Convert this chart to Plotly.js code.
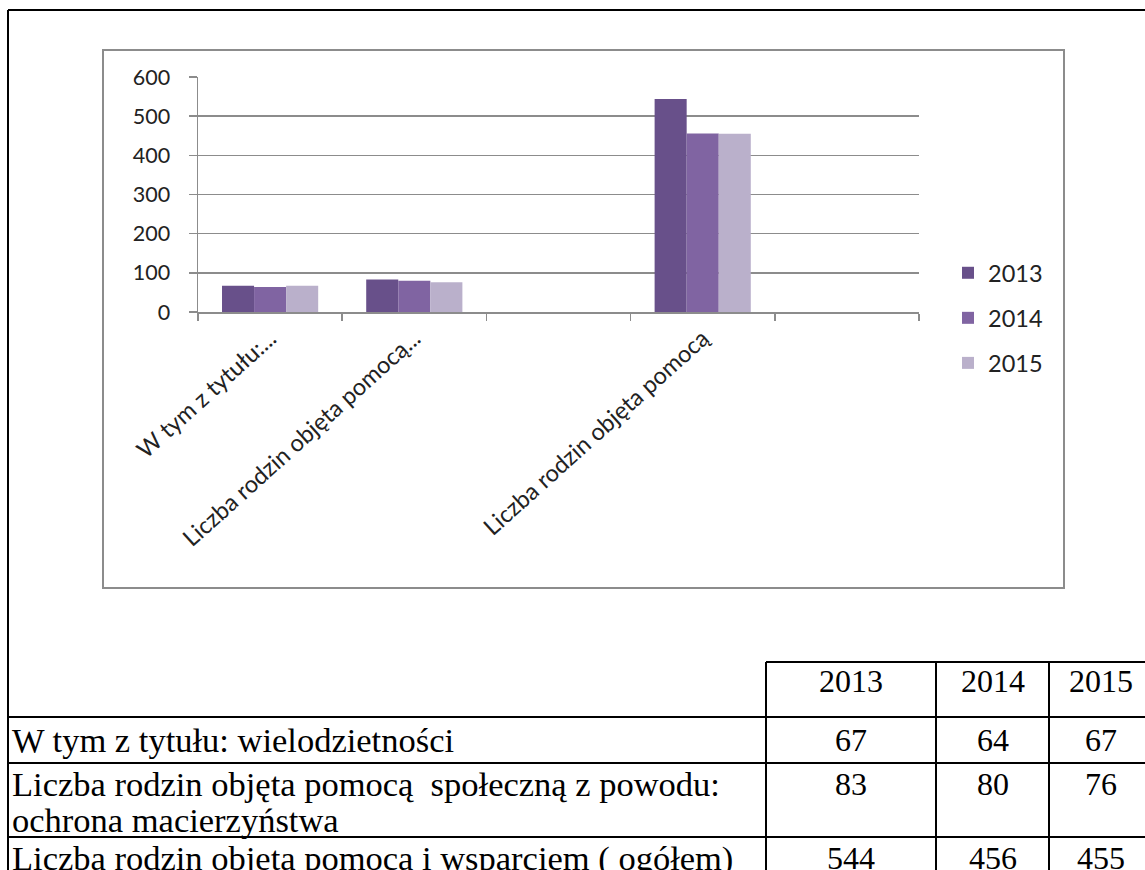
<!DOCTYPE html>
<html><head><meta charset="utf-8">
<script src="https://cdn.plot.ly/plotly-3.0.1.min.js"></script>
<style>html,body{margin:0;padding:0;background:#fff;} #chart{width:1145px;height:870px;}</style>
</head><body><div id="chart"></div>
<script>
// ---- data ----
const categories = ["W tym z tytułu:...", "Liczba rodzin objęta pomocą...", " ", "Liczba rodzin objęta pomocą", "  "];
const years = ["2013", "2014", "2015"];
const v2013 = [67, 83, null, 544, null];
const v2014 = [64, 80, null, 456, null];
const v2015 = [67, 76, null, 455, null];
const yTicks = [0, 100, 200, 300, 400, 500, 600];
const tableRowLabels = [
  ["W tym z tytułu: wielodzietności"],
  ["Liczba rodzin objęta pomocą  społeczną z powodu:", "ochrona macierzyństwa"],
  ["Liczba rodzin objęta pomocą i wsparciem ( ogółem)"]
];
const colors = ["#68508A", "#8064A2", "#BAB0CB"];

// ---- pixel helpers (plot area) ----
const W = 1145, H = 870, L = 198, R = 919, T = 77, B = 312;
const px = x => (x - L) / (R - L);
const py = y => (B - y) / (B - T);

const series = [v2013, v2014, v2015];
const traces = series.map((vals, i) => ({
  type: "bar", name: years[i], x: categories, y: vals,
  marker: {color: colors[i], line: {width: 0}},
  legendgroup: "g" + i, hoverinfo: "skip"
}));

const shapes = [];
const annotations = [];
const lineBlack = {color: "#000", width: 2};
function hline(y, x0, x1, line) { shapes.push({type: "line", xref: "paper", yref: "paper", x0: px(x0), x1: px(x1), y0: py(y), y1: py(y), line: line}); }
function vline(x, y0, y1, line) { shapes.push({type: "line", xref: "paper", yref: "paper", x0: px(x), x1: px(x), y0: py(y0), y1: py(y1), line: line}); }

// outer frame
hline(10, 8, W + 5, lineBlack);
vline(8, 10, H + 5, lineBlack);
// chart frame
shapes.push({type: "rect", xref: "paper", yref: "paper", x0: px(103), x1: px(1064), y0: py(50), y1: py(588), line: {color: "#8c8c8c", width: 2}});

// table
const colEdges = [766, 936, 1049, 1160];
const headerTop = 662;
const rowEdges = [717, 763, 837, 900];
hline(headerTop, colEdges[0], W + 5, lineBlack);
rowEdges.slice(0, 3).forEach(y => hline(y, 8, W + 5, lineBlack));
colEdges.slice(0, 3).forEach(x => vline(x, headerTop, H + 5, lineBlack));

const serif = {family: "Liberation Serif, Times New Roman, serif", size: 32, color: "#000"};
const serifLbl = {family: "Liberation Serif, Times New Roman, serif", size: 34.5, color: "#000"};
const colCenters = [0, 1, 2].map(i => (colEdges[i] + colEdges[i + 1]) / 2);
colCenters[2] = 1101;
function ann(text, x, y, xanchor, font) {
  annotations.push({text: text, xref: "paper", yref: "paper", x: px(x), y: py(y), xanchor: xanchor, yanchor: "middle", showarrow: false, font: font});
}
years.forEach((yr, i) => ann(yr, colCenters[i], 681, "center", serif));
const tableValues = series.map(a => a.filter(v => v !== null));
const rowTextY = [[740], [784, 820], [858]];
tableRowLabels.forEach((lines, r) => {
  lines.forEach((t, k) => ann(t, 10, rowTextY[r][k], "left", serifLbl));
  tableValues.forEach((vals, c) => ann(String(vals[r]), colCenters[c], rowTextY[r][0], "center", serif));
});

const sans = {family: "Lato, Carlito, Calibri, sans-serif", size: 21.5, color: "#222"};
const sansX = {family: "Lato, Carlito, Calibri, sans-serif", size: 23.5, color: "#222"};
const sansLeg = {family: "Lato, Carlito, Calibri, sans-serif", size: 23.5, color: "#222"};
const layout = {
  width: W, height: H,
  margin: {l: L, r: W - R, t: T, b: H - B, pad: 0},
  paper_bgcolor: "#fff", plot_bgcolor: "#fff",
  font: sans,
  barmode: "group", bargap: 0.333, bargroupgap: 0,
  showlegend: true,
  legend: {x: px(948), y: py(251), xanchor: "left", yanchor: "top", font: sansLeg,
           traceorder: "grouped", tracegroupgap: 11.5, bgcolor: "rgba(0,0,0,0)"},
  xaxis: {type: "category", range: [-0.5, 4.5], tickson: "boundaries", ticks: "outside", ticklen: 7,
          tickcolor: "#8c8c8c", tickwidth: 1.5, showgrid: false, showline: true, linecolor: "#8c8c8c", linewidth: 1.5,
          tickangle: -42, tickfont: sansX, ticklabelstandoff: 2, zeroline: false, fixedrange: true},
  yaxis: {range: [0, 600], tickvals: yTicks, ticks: "outside", ticklen: 8, tickcolor: "#8c8c8c", tickwidth: 1.5,
          showgrid: true, gridcolor: "#8c8c8c", gridwidth: 1.5, showline: true, linecolor: "#8c8c8c", linewidth: 1.5,
          zeroline: false, tickfont: sans, ticklabelstandoff: 14, fixedrange: true},
  shapes: shapes, annotations: annotations
};
Plotly.newPlot("chart", traces, layout, {displayModeBar: false, staticPlot: true});
</script></body></html>
